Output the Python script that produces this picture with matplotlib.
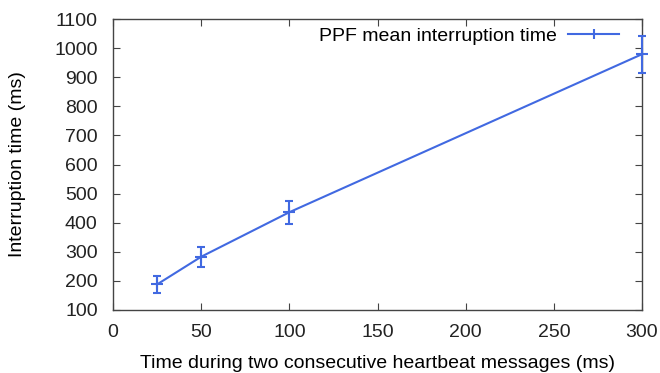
import matplotlib
matplotlib.use('Agg')
import matplotlib.pyplot as plt
from matplotlib.lines import Line2D

# heartbeat interval (ms) vs mean interruption time (ms)
heartbeat = [25, 50, 100, 300]
interruption = [188, 283, 436, 979]
err = [30, 35, 40, 63]

plt.rcParams['font.family'] = ['Liberation Sans', 'DejaVu Sans']
plt.rcParams['font.size'] = 14

color = '#4169e1'

fig = plt.figure(figsize=(6.6, 3.73), dpi=100)
ax = fig.add_axes([113 / 660, 1 - 310 / 373, (642 - 113) / 660, (310 - 19) / 373])

ax.errorbar(heartbeat, interruption, yerr=err, color=color, lw=1.5,
            elinewidth=1.5, capsize=3, capthick=1.5, marker='+', ms=9, mew=1.5,
            clip_on=False, zorder=3)

ax.set_xlim(0, 300)
ax.set_ylim(100, 1100)
ax.set_xticks(range(0, 301, 50))
ax.set_yticks(range(100, 1101, 100))
ax.tick_params(direction='in', top=True, right=True, length=5, width=0.8,
               color='#444444', labelcolor='#222222')
ax.tick_params(axis='y', pad=11)
ax.tick_params(axis='x', pad=10)
for s in ax.spines.values():
    s.set_color('#444444')
    s.set_linewidth(1)

ax.set_xlabel('Time during two consecutive heartbeat messages (ms)', labelpad=10)
ax.set_ylabel('Interruption time (ms)', labelpad=20)

# gnuplot style key: line with a small tick in the middle
handle = Line2D([], [], color=color, lw=1.5, marker='|', ms=7, mew=1.5)
ax.legend([handle], ['PPF mean interruption time'], loc='upper right',
          frameon=False, markerfirst=False, handlelength=2.6, handletextpad=0.6,
          borderaxespad=0.1, bbox_to_anchor=(0.975, 1.005))

fig.savefig('out.png', dpi=100)
